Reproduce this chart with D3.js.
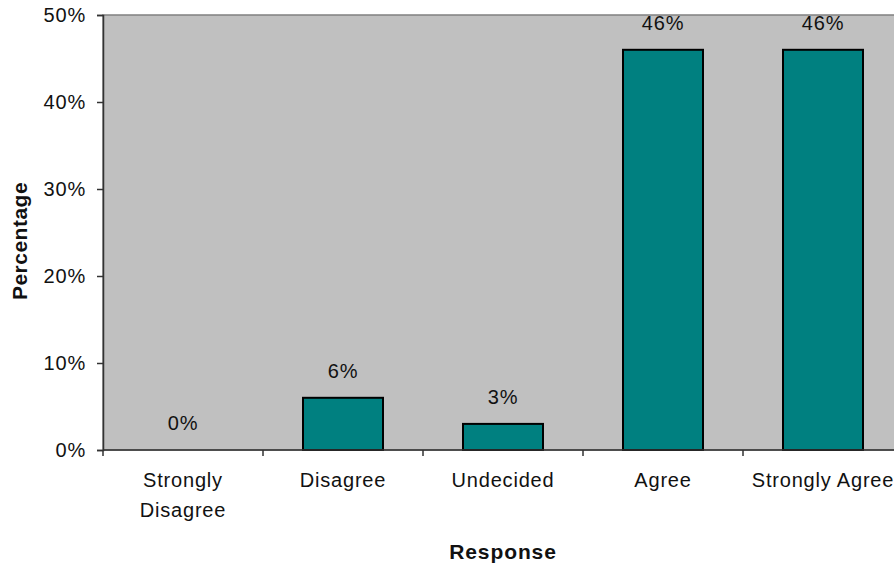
<!DOCTYPE html>
<html>
<head>
<meta charset="utf-8">
<script src="https://cdn.jsdelivr.net/npm/d3@7"></script>
<style>
  body { margin: 0; background: #fff; }
  svg { display: block; font-family: "Liberation Sans", Arial, sans-serif; }
</style>
</head>
<body>
<svg id="chart" width="894" height="570"></svg>
<script>
'use strict'

const categories = ['Strongly Disagree', 'Disagree', 'Undecided', 'Agree', 'Strongly Agree']
const categoryLines = [['Strongly', 'Disagree'], ['Disagree'], ['Undecided'], ['Agree'], ['Strongly Agree']]
const percentages = [0, 6, 3, 46, 46]
const yTicks = [0, 10, 20, 30, 40, 50]

const svg = d3.select('#chart')
const plot = { left: 103, top: 15, right: 903, bottom: 450 }
const fontSize = 20
const spacing = 0.8

const x = d3.scaleBand()
    .domain(categories)
    .range([plot.left, plot.right])
    .paddingInner(0.5)
    .paddingOuter(0.25)

const y = d3.scaleLinear()
    .domain([0, 50])
    .range([plot.bottom, plot.top])

// plot background
svg.append('rect')
    .attr('x', plot.left)
    .attr('y', plot.top)
    .attr('width', plot.right - plot.left)
    .attr('height', plot.bottom - plot.top)
    .attr('fill', '#c0c0c0')
    .attr('stroke', '#808080')
    .attr('stroke-width', 1.5)

// bars
svg.selectAll('rect.bar')
    .data(percentages)
    .enter()
    .append('rect')
    .attr('class', 'bar')
    .attr('x', (d, i) => x(categories[i]))
    .attr('y', (d) => y(d))
    .attr('width', x.bandwidth())
    .attr('height', (d) => y(0) - y(d))
    .attr('fill', '#008080')
    .attr('stroke', '#000')
    .attr('stroke-width', (d) => d > 0 ? 2 : 0)

// value labels
svg.selectAll('text.value')
    .data(percentages)
    .enter()
    .append('text')
    .attr('class', 'value')
    .attr('x', (d, i) => x(categories[i]) + x.bandwidth() / 2)
    .attr('y', (d) => y(d) - 20)
    .attr('text-anchor', 'middle')
    .attr('font-size', fontSize)
    .attr('letter-spacing', spacing)
    .attr('fill', '#111')
    .text((d) => `${d}%`)

// y axis
const yAxis = d3.axisLeft(y)
    .tickValues(yTicks)
    .tickFormat((d) => `${d}%`)
    .tickSize(6)
    .tickPadding(11)

const yG = svg.append('g')
    .attr('transform', `translate(${plot.left},0)`)
    .call(yAxis)
yG.select('.domain').attr('stroke', '#333').attr('stroke-width', 1.5)
yG.selectAll('.tick line').attr('stroke', '#333').attr('stroke-width', 1.5)
yG.selectAll('.tick text')
    .attr('font-size', fontSize)
    .attr('letter-spacing', spacing)
    .attr('font-family', '"Liberation Sans", Arial, sans-serif')
    .attr('fill', '#111')

// x axis: ticks between categories
const bandStep = x.step()
const boundaries = d3.range(categories.length + 1).map((i) => plot.left + i * bandStep)

svg.append('line')
    .attr('x1', plot.left)
    .attr('x2', plot.right)
    .attr('y1', plot.bottom)
    .attr('y2', plot.bottom)
    .attr('stroke', '#333')
    .attr('stroke-width', 1.5)

svg.selectAll('line.xtick')
    .data(boundaries)
    .enter()
    .append('line')
    .attr('class', 'xtick')
    .attr('x1', (d) => d)
    .attr('x2', (d) => d)
    .attr('y1', plot.bottom)
    .attr('y2', plot.bottom + 6)
    .attr('stroke', '#333')
    .attr('stroke-width', 1.5)

const xLabels = svg.selectAll('text.xlabel')
    .data(categoryLines)
    .enter()
    .append('text')
    .attr('class', 'xlabel')
    .attr('text-anchor', 'middle')
    .attr('font-size', fontSize)
    .attr('fill', '#111')
    .attr('letter-spacing', spacing)

xLabels.selectAll('tspan')
    .data((d, i) => d.map((line) => ({ line, i })))
    .enter()
    .append('tspan')
    .attr('x', (d) => x(categories[d.i]) + x.bandwidth() / 2)
    .attr('y', (d, j) => 487 + j * 30)
    .text((d) => d.line)

// axis titles
svg.append('text')
    .attr('x', (plot.left + plot.right) / 2)
    .attr('y', 559)
    .attr('text-anchor', 'middle')
    .attr('font-size', 21)
    .attr('font-weight', 'bold')
    .attr('letter-spacing', 0.9)
    .attr('fill', '#111')
    .text('Response')

svg.append('text')
    .attr('transform', `translate(27,241) rotate(-90)`)
    .attr('text-anchor', 'middle')
    .attr('font-size', 21)
    .attr('font-weight', 'bold')
    .attr('letter-spacing', 0.5)
    .attr('fill', '#111')
    .text('Percentage')
</script>
</body>
</html>
